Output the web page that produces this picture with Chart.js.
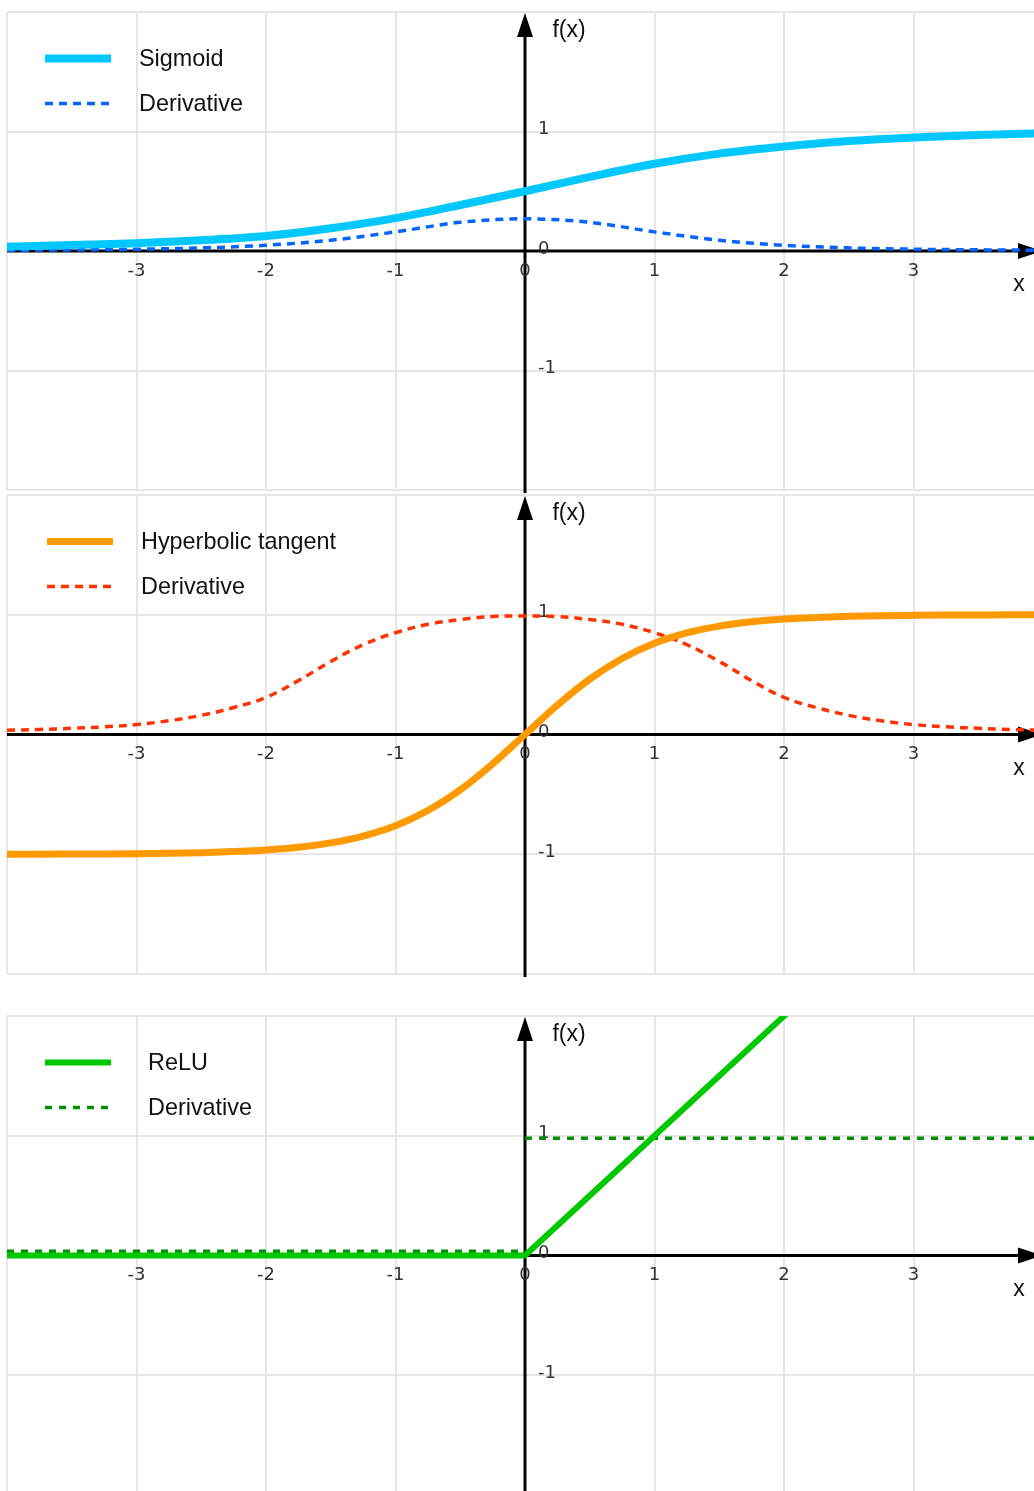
<!DOCTYPE html>
<html><head><meta charset="utf-8">
<script src="https://cdn.jsdelivr.net/npm/chart.js@4/dist/chart.umd.min.js"></script>
<style>
html,body{margin:0;padding:0;background:#fff;overflow:hidden;width:1034px;height:1491px;position:relative}
canvas{position:absolute;left:0}
</style></head><body>
<canvas id="c1" width="1034" height="498" style="top:0px"></canvas>
<canvas id="c2" width="1034" height="499" style="top:483px"></canvas>
<canvas id="c3" width="1034" height="499" style="top:1004px"></canvas>
<script>
// ---- data ----
const xTickLabels = [-3, -2, -1, 0, 1, 2, 3];
const yTickLabels = [-1, 0, 1];

const sigmoidX = [-4, -3.5, -3, -2.5, -2, -1.5, -1, -0.5, 0, 0.5, 1, 1.5, 2, 2.5, 3, 3.5, 4];
const sigmoidY = [0.035, 0.05, 0.065, 0.09, 0.125, 0.19, 0.275, 0.385, 0.5, 0.62, 0.73, 0.815, 0.875, 0.92, 0.95, 0.97, 0.985];
const sigmoidDerivY = [0.006, 0.01, 0.015, 0.026, 0.048, 0.09, 0.16, 0.24, 0.27, 0.24, 0.16, 0.09, 0.048, 0.026, 0.015, 0.01, 0.006];

const tanhX = [-4, -3.75, -3.5, -3.25, -3, -2.75, -2.5, -2.25, -2, -1.75, -1.5, -1.25, -1, -0.75, -0.5, -0.25, 0,
               0.25, 0.5, 0.75, 1, 1.25, 1.5, 1.75, 2, 2.25, 2.5, 2.75, 3, 3.25, 3.5, 3.75, 4];
const tanhY = [-0.999, -0.999, -0.998, -0.997, -0.995, -0.992, -0.987, -0.978, -0.964, -0.941, -0.905, -0.848, -0.762, -0.635, -0.462, -0.245, 0,
               0.245, 0.462, 0.635, 0.762, 0.848, 0.905, 0.941, 0.964, 0.978, 0.987, 0.992, 0.995, 0.997, 0.998, 0.999, 0.999];
const tanhDerivY = [0.035, 0.042, 0.052, 0.064, 0.083, 0.115, 0.16, 0.225, 0.31, 0.45, 0.61, 0.75, 0.85, 0.92, 0.96, 0.985, 0.99,
                    0.985, 0.96, 0.92, 0.85, 0.75, 0.61, 0.45, 0.31, 0.225, 0.16, 0.115, 0.083, 0.064, 0.052, 0.042, 0.035];

const reluX = [-4, 0, 4];
const reluY = [0, 0, 4];
const reluDerivX = [-4, 0, 0, 0, 4];
const reluDerivY = [0.035, 0.035, null, 0.98, 0.98];

// ---- helpers ----
function pts(xs, ys) { return xs.map((v, i) => ({ x: v, y: ys[i] })); }

const axesPlugin = {
  id: 'axesDeco',
  beforeDatasetsDraw(chart, args, opts) {
    const { ctx, chartArea: a, scales: { x, y } } = chart;
    const x0 = x.getPixelForValue(0), y0 = y.getPixelForValue(0);
    ctx.save();
    ctx.strokeStyle = '#000'; ctx.fillStyle = '#000'; ctx.lineWidth = 3;
    // x axis
    const tipX = a.right + 8;
    ctx.beginPath(); ctx.moveTo(a.left, y0); ctx.lineTo(tipX - 20, y0); ctx.stroke();
    ctx.beginPath(); ctx.moveTo(tipX, y0); ctx.lineTo(tipX - 24, y0 - 8); ctx.lineTo(tipX - 24, y0 + 8); ctx.closePath(); ctx.fill();
    // y axis
    const tipY = a.top + 1;
    ctx.beginPath(); ctx.moveTo(x0, a.bottom + 3); ctx.lineTo(x0, tipY + 20); ctx.stroke();
    ctx.beginPath(); ctx.moveTo(x0, tipY); ctx.lineTo(x0 - 8, tipY + 24); ctx.lineTo(x0 + 8, tipY + 24); ctx.closePath(); ctx.fill();
    // tick labels
    ctx.font = '18px "DejaVu Sans"'; ctx.fillStyle = '#333';
    ctx.textAlign = 'center'; ctx.textBaseline = 'middle';
    xTickLabels.forEach(t => ctx.fillText(String(t), x.getPixelForValue(t), y0 + 20));
    ctx.textAlign = 'left';
    yTickLabels.forEach(t => ctx.fillText(String(t), x0 + 13, y.getPixelForValue(t) - 2));
    // axis names
    ctx.font = '23px "Liberation Sans"'; ctx.fillStyle = '#111'; ctx.textAlign = 'center';
    ctx.fillText('f(x)', x0 + 44, a.top + 19);
    ctx.fillText('x', a.right - 15, y0 + 34);
    ctx.restore();
  },
  afterDraw(chart, args, opts) {
    const { ctx, chartArea: a } = chart;
    ctx.save();
    chart.data.datasets.forEach((ds, i) => {
      const ly = a.top + 46.5 + i * 45;
      ctx.strokeStyle = ds.borderColor;
      ctx.lineWidth = ds.borderWidth;
      ctx.setLineDash(ds.borderDash || []);
      ctx.beginPath(); ctx.moveTo(opts.lineX, ly); ctx.lineTo(opts.lineX + 66, ly); ctx.stroke();
      ctx.setLineDash([]);
      ctx.font = '23.4px "Liberation Sans"'; ctx.fillStyle = '#111';
      ctx.textAlign = 'left'; ctx.textBaseline = 'middle';
      ctx.fillText(ds.label, opts.textX, ly + 1);
    });
    ctx.restore();
  }
};

function makeChart(id, datasets, lineX, textX) {
  return new Chart(document.getElementById(id), {
    type: 'line',
    data: { datasets },
    options: {
      responsive: false, animation: false, devicePixelRatio: 1,
      layout: { padding: { left: 7, top: 12, right: 0, bottom: 8 } },
      elements: { point: { radius: 0 }, line: { cubicInterpolationMode: 'monotone' } },
      plugins: { legend: { display: false }, tooltip: { enabled: false }, axesDeco: { lineX, textX } },
      scales: {
        x: { type: 'linear', min: -4, max: -4 + 1027 / 129.5,
             ticks: { display: false, stepSize: 1, includeBounds: false },
             grid: { color: '#e6e6e6', lineWidth: 2, drawTicks: false }, border: { display: false } },
        y: { type: 'linear', min: -2, max: 2,
             ticks: { display: false, stepSize: 1 },
             grid: { color: '#e6e6e6', lineWidth: 2, drawTicks: false }, border: { display: false } }
      }
    },
    plugins: [axesPlugin]
  });
}

makeChart('c1', [
  { label: 'Sigmoid', data: pts(sigmoidX, sigmoidY), borderColor: '#00c8ff', borderWidth: 8, clip: 0 },
  { label: 'Derivative', data: pts(sigmoidX, sigmoidDerivY), borderColor: '#0066ff', borderWidth: 3.5, borderDash: [8, 6], clip: 0 }
], 45, 139);

makeChart('c2', [
  { label: 'Hyperbolic tangent', data: pts(tanhX, tanhY), borderColor: '#ff9900', borderWidth: 7, clip: 0 },
  { label: 'Derivative', data: pts(tanhX, tanhDerivY), borderColor: '#ff3300', borderWidth: 3.5, borderDash: [8, 6], clip: 0, cubicInterpolationMode: 'default', tension: 0.4 }
], 47, 141);

makeChart('c3', [
  { label: 'ReLU', data: pts(reluX, reluY), borderColor: '#00c800', borderWidth: 6, clip: 0, cubicInterpolationMode: 'default', tension: 0 },
  { label: 'Derivative', data: pts(reluDerivX, reluDerivY), borderColor: '#009000', borderWidth: 3.5, borderDash: [7, 7], clip: 0, spanGaps: false, cubicInterpolationMode: 'default', tension: 0 }
], 45, 148);
</script>
</body></html>
